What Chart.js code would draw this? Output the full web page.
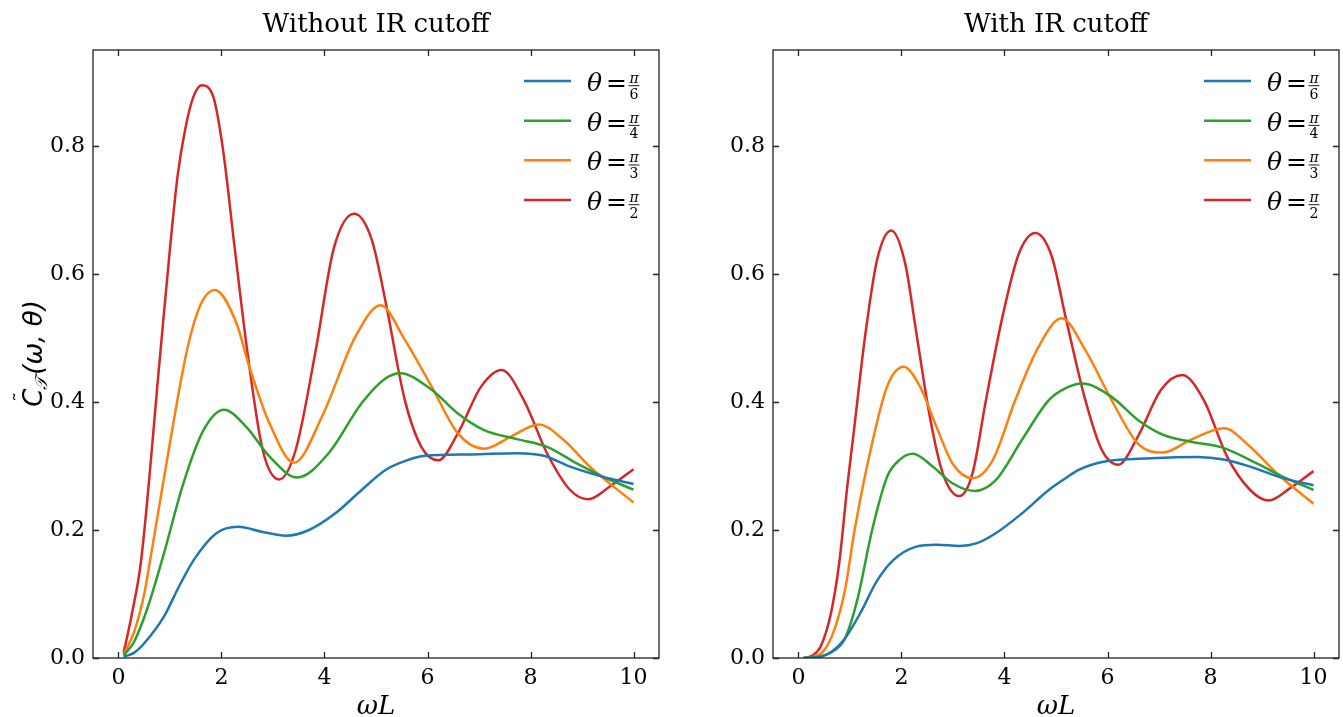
<!DOCTYPE html>
<html>
<head>
<meta charset="utf-8">
<script src="https://cdn.jsdelivr.net/npm/chart.js@4.4.1/dist/chart.umd.min.js"></script>
<style>
  html, body { margin: 0; padding: 0; background: #fff; }
  #wrap { position: relative; width: 1343px; height: 717px; }
  canvas { position: absolute; top: 0; }
</style>
</head>
<body>
<div id="wrap">
  <canvas id="left" width="671" height="717" style="left:0"></canvas>
  <canvas id="right" width="672" height="717" style="left:671px"></canvas>
</div>
<script>
// ----- Datos -----
const xTicks = [0, 2, 4, 6, 8, 10];
const yTicks = [0.0, 0.2, 0.4, 0.6, 0.8];
const thetaDen = ["6", "4", "3", "2"];
const panelTitles = ["Without IR cutoff", "With IR cutoff"];

// sin corte IR
const noCutPi6 = [[0.1,0.002],[0.3,0.008],[0.5,0.023],[0.885,0.065],[1.17,0.111],[1.46,0.153],[1.9,0.195],
  [2.32,0.205],[2.8,0.197],[3.25,0.191],[3.7,0.2],[4.21,0.226],[4.72,0.2625],[5.17,0.293],[5.44,0.304],
  [5.95,0.316],[6.85,0.318],[7.74,0.32],[8.26,0.316],[8.77,0.299],[9.41,0.283],[10.0,0.272]];
const noCutPi4 = [[0.1,0.004],[0.3,0.025],[0.55,0.075],[0.87,0.16],[1.26,0.273],[1.65,0.356],[2.05,0.388],
  [2.48,0.361],[2.93,0.315],[3.47,0.282],[4.08,0.32],[4.72,0.398],[5.17,0.436],[5.47,0.445],[6.08,0.419],
  [6.59,0.382],[7.1,0.356],[7.74,0.342],[8.32,0.33],[8.9,0.304],[9.41,0.283],[10.0,0.263]];
const noCutPi3 = [[0.1,0.005],[0.3,0.04],[0.5,0.1],[0.615,0.153],[0.975,0.325],[1.33,0.481],[1.6,0.553],
  [1.87,0.575],[2.29,0.523],[2.54,0.455],[2.93,0.367],[3.41,0.305],[3.95,0.377],[4.6,0.502],[5.09,0.551],
  [5.56,0.497],[6.08,0.424],[6.59,0.351],[7.1,0.327],[7.62,0.346],[8.16,0.365],[8.64,0.341],[9.15,0.299],
  [10.0,0.243]];
const noCutPi2 = [[0.1,0.008],[0.25,0.065],[0.44,0.153],[0.8,0.466],[1.0,0.64],[1.15,0.755],[1.3,0.828],
  [1.45,0.876],[1.615,0.895],[1.84,0.877],[2.03,0.794],[2.26,0.638],[2.51,0.474],[2.8,0.325],[3.12,0.279],
  [3.44,0.325],[3.83,0.481],[4.18,0.64],[4.58,0.694],[4.92,0.653],[5.18,0.559],[5.56,0.403],[5.88,0.33],
  [6.21,0.309],[6.59,0.351],[7.04,0.424],[7.44,0.45],[7.87,0.403],[8.32,0.32],[8.77,0.2625],[9.12,0.248],
  [9.54,0.268],[10.0,0.295]];

// con corte IR
const cutPi6 = [[0.1,0.0],[0.43,0.002],[0.65,0.01],[0.88,0.028],[1.2,0.07],[1.52,0.12],[1.84,0.153],
  [2.29,0.174],[2.68,0.177],[3.13,0.175],[3.45,0.179],[3.83,0.195],[4.34,0.226],[4.86,0.2625],[5.17,0.28],
  [5.44,0.294],[5.95,0.307],[6.85,0.312],[7.75,0.314],[8.26,0.31],[8.77,0.299],[9.41,0.281],[10.0,0.27]];
const cutPi4 = [[0.1,0.0],[0.4,0.002],[0.7,0.012],[0.9,0.03],[1.14,0.09],[1.43,0.2],[1.72,0.283],
  [1.97,0.31],[2.22,0.319],[2.61,0.299],[2.99,0.273],[3.42,0.261],[3.83,0.278],[4.34,0.341],[4.86,0.403],
  [5.17,0.421],[5.51,0.429],[6.08,0.408],[6.59,0.372],[7.1,0.348],[7.62,0.338],[8.26,0.328],[8.9,0.304],
  [9.41,0.283],[10.0,0.2625]];
const cutPi3 = [[0.1,0.0],[0.3,0.002],[0.5,0.012],[0.7,0.045],[0.9,0.105],[1.09,0.2],[1.4,0.325],
  [1.72,0.424],[2.04,0.455],[2.36,0.424],[2.68,0.361],[2.99,0.304],[3.38,0.281],[3.77,0.309],[4.21,0.403],
  [4.66,0.486],[5.11,0.531],[5.57,0.481],[6.08,0.403],[6.59,0.335],[7.07,0.321],[7.62,0.341],[8.26,0.359],
  [8.77,0.33],[9.28,0.289],[10.0,0.241]];
const cutPi2 = [[0.1,0.0],[0.25,0.003],[0.43,0.018],[0.63,0.07],[0.79,0.148],[0.95,0.27],[1.07,0.351],
  [1.3,0.507],[1.525,0.622],[1.8,0.668],[2.07,0.617],[2.29,0.507],[2.55,0.377],[2.8,0.289],[3.12,0.253],
  [3.38,0.289],[3.64,0.403],[3.96,0.533],[4.28,0.632],[4.6,0.664],[4.92,0.627],[5.18,0.535],[5.57,0.403],
  [5.89,0.325],[6.21,0.302],[6.59,0.346],[7.04,0.419],[7.45,0.442],[7.87,0.403],[8.32,0.315],[8.77,0.2625],
  [9.13,0.246],[9.54,0.265],[10.0,0.292]];

const colores = ["#1f77b4", "#2ca02c", "#ff7f0e", "#d62728"];
const SERIF = "'DejaVu Serif', serif";

// ----- Plugin: marco, ticks hacia dentro, títulos y leyenda -----
const decor = {
  id: "decor",
  afterDraw(chart, args, opts) {
    const ctx = chart.ctx;
    const a = chart.chartArea;
    const xs = chart.scales.x, ys = chart.scales.y;
    ctx.save();
    // marco
    ctx.strokeStyle = "#222";
    ctx.lineWidth = 1.3;
    ctx.strokeRect(a.left, a.top, a.right - a.left, a.bottom - a.top);
    // ticks
    const tl = 6;
    ctx.beginPath();
    xTicks.forEach(v => {
      const p = Math.round(xs.getPixelForValue(v)) + 0.5;
      ctx.moveTo(p, a.bottom); ctx.lineTo(p, a.bottom - tl);
      ctx.moveTo(p, a.top); ctx.lineTo(p, a.top + tl);
    });
    yTicks.forEach(v => {
      const p = Math.round(ys.getPixelForValue(v)) + 0.5;
      ctx.moveTo(a.left, p); ctx.lineTo(a.left + tl, p);
      ctx.moveTo(a.right, p); ctx.lineTo(a.right - tl, p);
    });
    ctx.stroke();

    ctx.fillStyle = "#000";
    // título
    ctx.font = "26px " + SERIF;
    ctx.textAlign = "center";
    ctx.textBaseline = "alphabetic";
    ctx.fillText(opts.title, (a.left + a.right) / 2, 32);
    // etiqueta x
    ctx.font = "italic 26px " + SERIF;
    ctx.fillText("\u03c9L", (a.left + a.right) / 2, 714);

    // etiqueta y
    if (opts.ylabel) {
      ctx.save();
      ctx.translate(42, (a.top + a.bottom) / 2);
      ctx.rotate(-Math.PI / 2);
      ctx.textAlign = "left";
      const big = "italic 26px 'DejaVu Sans', sans-serif";
      const small = "italic 17px 'DejaVu Sans', sans-serif";
      ctx.font = big;
      const wC = ctx.measureText("C").width;
      ctx.font = small;
      const wT = ctx.measureText("\ud835\udcaf").width;
      ctx.font = big;
      const wR = ctx.measureText("(\u03c9, \u03b8)").width;
      let x0 = -(wC + wT + wR) / 2;
      ctx.fillText("C", x0, 0);
      ctx.font = "20px 'DejaVu Sans', sans-serif";
      ctx.fillText("\u02dc", x0 + 5, -14);
      ctx.font = small;
      ctx.fillText("\ud835\udcaf", x0 + wC - 1, 5);
      ctx.font = big;
      ctx.fillText("(\u03c9, \u03b8)", x0 + wC + wT + 1, 0);
      ctx.restore();
    }

    // leyenda
    const lx = a.right - 135;
    const rowY = [81, 120.7, 160.3, 200];
    chart.data.datasets.forEach((ds, i) => {
      const y = rowY[i];
      ctx.strokeStyle = ds.borderColor;
      ctx.lineWidth = 2.5;
      ctx.beginPath();
      ctx.moveTo(lx, y); ctx.lineTo(lx + 47, y);
      ctx.stroke();
      ctx.fillStyle = "#000";
      ctx.textAlign = "left";
      ctx.textBaseline = "alphabetic";
      ctx.font = "italic 25px " + SERIF;
      ctx.fillText("\u03b8", lx + 63, y + 10);
      ctx.font = "25px " + SERIF;
      ctx.fillText("=", lx + 82, y + 10);
      // fracción π / n
      const fx = lx + 110;
      ctx.font = "italic 14px " + SERIF;
      ctx.textAlign = "center";
      ctx.fillText("\u03c0", fx, y + 2);
      ctx.font = "14px " + SERIF;
      ctx.fillText(thetaDen[i], fx, y + 17.5);
      ctx.lineWidth = 0.9;
      ctx.strokeStyle = "#000";
      ctx.beginPath();
      ctx.moveTo(fx - 5.5, y + 4.7); ctx.lineTo(fx + 5.5, y + 4.7);
      ctx.stroke();
    });
    ctx.restore();
  }
};

function toPts(arr) {
  return arr.map(([x, y]) => ({ x: x, y: y }));
}

function crearPanel(id, series, titulo, yWidth, padRight, conEtiquetaY) {
  const datasets = series.map((s, i) => ({
    label: "\u03b8 = \u03c0/" + thetaDen[i],
    data: toPts(s),
    borderColor: colores[i],
    backgroundColor: colores[i],
    borderWidth: 2.5,
    pointRadius: 0,
    fill: false,
    cubicInterpolationMode: "monotone"
  }));
  new Chart(document.getElementById(id), {
    type: "line",
    data: { datasets: datasets },
    options: {
      responsive: false,
      animation: false,
      devicePixelRatio: 1,
      layout: { padding: { top: 50, right: padRight, left: 0, bottom: 0 } },
      plugins: {
        legend: { display: false },
        tooltip: { enabled: false },
        decor: { title: titulo, ylabel: conEtiquetaY }
      },
      scales: {
        x: {
          type: "linear",
          min: -0.495,
          max: 10.495,
          grid: { display: false, drawTicks: false },
          border: { display: false },
          afterBuildTicks: s => { s.ticks = xTicks.map(v => ({ value: v })); },
          afterFit: s => { s.height = 59; },
          ticks: {
            color: "#000",
            padding: 7,
            maxRotation: 0,
            font: { family: SERIF, size: 22 },
            callback: v => String(v)
          }
        },
        y: {
          min: 0,
          max: 0.95,
          grid: { display: false, drawTicks: false },
          border: { display: false },
          afterBuildTicks: s => { s.ticks = yTicks.map(v => ({ value: v })); },
          afterFit: s => { s.width = yWidth; },
          ticks: {
            color: "#000",
            padding: 8,
            font: { family: SERIF, size: 22 },
            callback: v => Number(v).toFixed(1)
          }
        }
      }
    },
    plugins: [decor]
  });
}

crearPanel("left", [noCutPi6, noCutPi4, noCutPi3, noCutPi2], panelTitles[0], 93, 12, true);
crearPanel("right", [cutPi6, cutPi4, cutPi3, cutPi2], panelTitles[1], 102, 4, false);
</script>
</body>
</html>
